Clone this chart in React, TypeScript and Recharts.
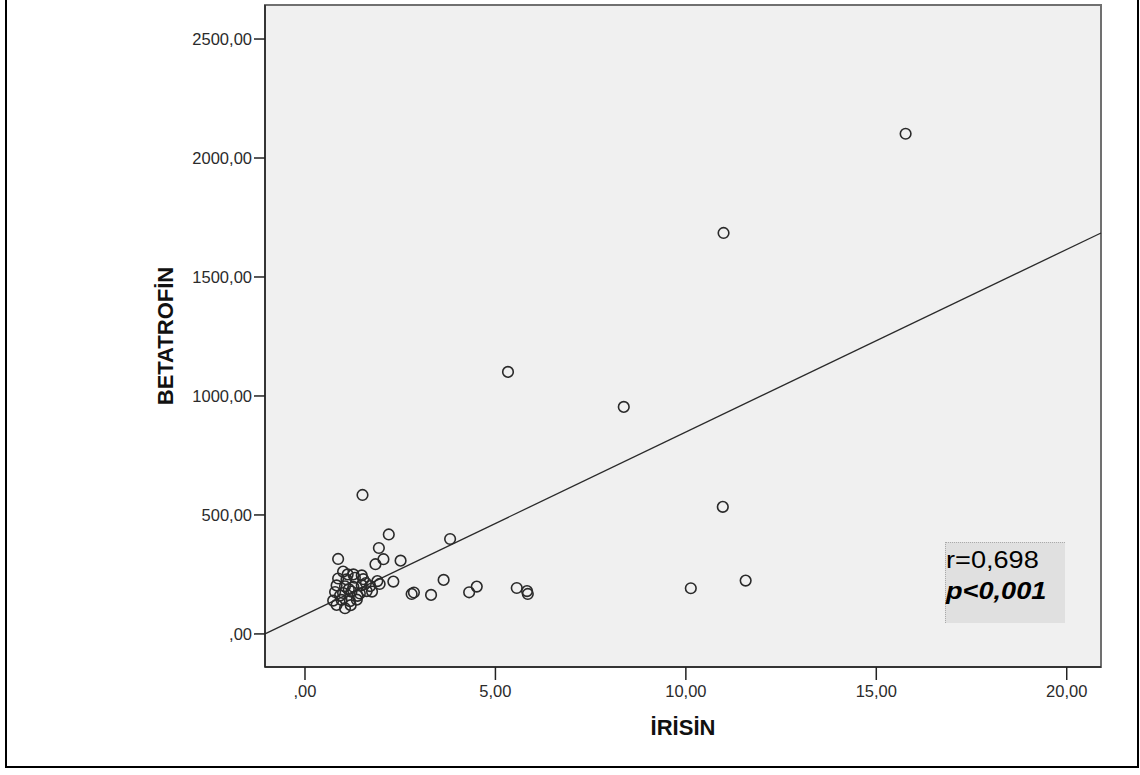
import {
  ScatterChart, Scatter, XAxis, YAxis, CartesianGrid,
  ReferenceLine, ReferenceArea, Label,
} from "recharts"

// İRİSİN (x) / BETATROFİN (y)
const irisin = [
  15.77, 10.99, 5.33, 8.37, 10.97, 10.13, 11.57, 5.56, 5.83, 5.85,
  4.51, 4.31, 3.81, 3.64, 3.31, 2.80, 2.86, 1.51, 2.20, 1.94,
  0.87, 2.06, 1.85, 2.51, 2.32, 1.90, 1.96, 1.76, 1.00, 1.27,
  1.49, 0.87, 1.09, 1.31, 1.53, 0.83, 1.05, 1.27, 1.49, 1.71,
  0.79, 1.00, 1.22, 1.44, 1.62, 0.74, 0.96, 1.18, 1.36, 1.05,
  0.83, 1.15, 1.38, 0.92, 1.60, 1.20, 1.12,
]
const betatrofin = [
  2102, 1685, 1101, 954, 534, 192, 224, 193, 180, 168,
  199, 175, 399, 227, 164, 168, 174, 584, 418, 361,
  315, 314, 293, 308, 220, 222, 210, 178, 262, 250,
  246, 233, 229, 236, 230, 204, 200, 198, 205, 201,
  176, 172, 178, 170, 180, 140, 143, 138, 144, 108,
  122, 188, 160, 161, 214, 121, 250,
]

const xTicks = [0, 5, 10, 15, 20]
const yTicks = [0, 500, 1000, 1500, 2000, 2500]
const xDomain = [-1.05, 20.9]
const yDomain = [-139, 2643]

// fit line end points
const fitX = [-1.05, 20.9]
const fitY = [0, 1685]

const points = irisin.map((x, i) => ({ x, y: betatrofin[i] }))

const fmt = (v: number) => {
  const s = v.toFixed(2).replace(".", ",")
  return s.startsWith("0,") ? s.slice(1) : s
}

const font = '"Liberation Sans", Arial, sans-serif'

const Ring = (props: any) => (
  <circle cx={props.cx} cy={props.cy} r={5.3} fill="none" stroke="#2a2a2a" strokeWidth={1.6} />
)

export default function App() {
  return (
    <div style={{ position: "absolute", left: 0, top: 0, width: 1140, height: 775, background: "#fff", fontFamily: font, overflow: "hidden" }}>
      <ScatterChart width={1140} height={775} margin={{ top: 5, right: 39, bottom: 48, left: 185 }}>
        <CartesianGrid horizontal={false} vertical={false} fill="#f0f0f0" />
        <ReferenceArea
          x1={xDomain[0]} x2={xDomain[1]} y1={yDomain[0]} y2={yDomain[1]}
          fill="none" fillOpacity={0} stroke="#707070" strokeWidth={2}
        />
        <XAxis
          type="number" dataKey="x" domain={xDomain} ticks={xTicks} allowDataOverflow
          height={60} tickSize={13} tickMargin={5} tickFormatter={fmt}
          tick={{ fill: "#2b2b2b", fontSize: 16.5, fontFamily: font }}
          axisLine={{ stroke: "#222", strokeWidth: 1.5 }}
          tickLine={{ stroke: "#222", strokeWidth: 1.5 }}
        >
          <Label
            content={({ viewBox }: any) => (
              <text x={viewBox.x + viewBox.width / 2} y={viewBox.y + 68} textAnchor="middle"
                fontSize={22} fontWeight="bold" fill="#111" fontFamily={font}>
                İRİSİN
              </text>
            )}
          />
        </XAxis>
        <YAxis
          type="number" dataKey="y" domain={yDomain} ticks={yTicks} allowDataOverflow
          width={80} tickSize={11} tickMargin={2} tickFormatter={fmt}
          tick={{ fill: "#2b2b2b", fontSize: 16.5, fontFamily: font }}
          axisLine={{ stroke: "#222", strokeWidth: 1.5 }}
          tickLine={{ stroke: "#222", strokeWidth: 1.5 }}
        >
          <Label
            content={({ viewBox }: any) => {
              const cx = viewBox.x - 20
              const cy = viewBox.y + viewBox.height / 2
              return (
                <text x={cx} y={cy} textAnchor="middle" dominantBaseline="central"
                  transform={`rotate(-90 ${cx} ${cy})`}
                  fontSize={22} fontWeight="bold" fill="#111" fontFamily={font}>
                  BETATROFİN
                </text>
              )
            }}
          />
        </YAxis>
        <ReferenceLine
          segment={[{ x: fitX[0], y: fitY[0] }, { x: fitX[1], y: fitY[1] }]}
          stroke="#2a2a2a" strokeWidth={1.3} ifOverflow="visible"
        />
        <Scatter data={points} shape={Ring} isAnimationActive={false} />
      </ScatterChart>

      <div style={{
        position: "absolute", left: 945, top: 542, width: 120, height: 81,
        background: "#e0e0e0", borderTop: "1px dotted #aaa", borderLeft: "1px dotted #aaa",
        boxSizing: "border-box",
      }}>
        <div style={{ position: "absolute", left: 0, top: 4, fontSize: 23, color: "#000", lineHeight: "26px", transform: "scaleX(1.18)", transformOrigin: "left center", whiteSpace: "nowrap" }}>r=0,698</div>
        <div style={{ position: "absolute", left: 0, top: 35, fontSize: 23, color: "#000", lineHeight: "26px", fontWeight: "bold", fontStyle: "italic", transform: "scaleX(1.18)", transformOrigin: "left center", whiteSpace: "nowrap" }}>p&lt;0,001</div>
      </div>

      <div style={{
        position: "absolute", left: 5, top: -5, width: 1134, height: 773,
        border: "2px solid #000", boxSizing: "border-box", pointerEvents: "none",
      }} />
    </div>
  )
}
